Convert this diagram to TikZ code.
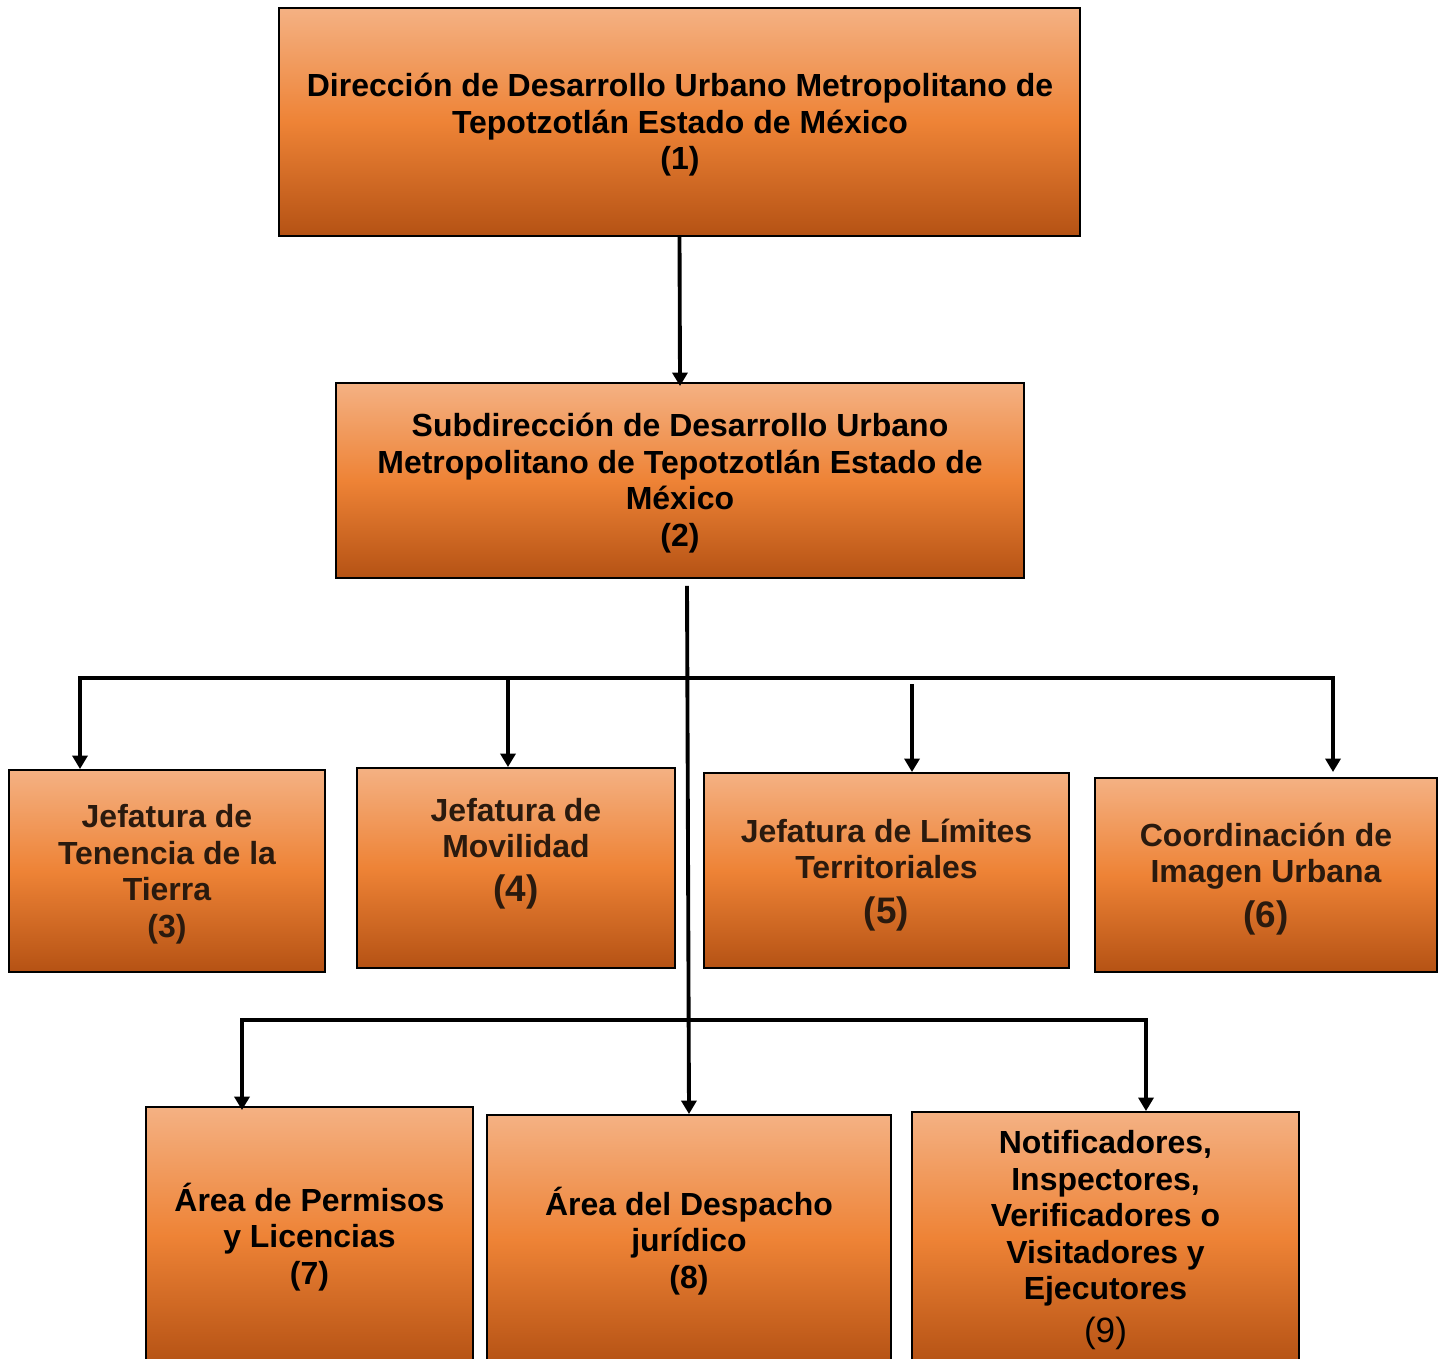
\documentclass[tikz,border=0pt]{standalone}
\usepackage{fontspec}
\setmainfont{Liberation Sans}
\usetikzlibrary{arrows.meta}
\definecolor{orTop}{HTML}{F4B183}
\definecolor{orMid}{HTML}{EE8336}
\definecolor{orBot}{HTML}{B55214}
\definecolor{darktxt}{HTML}{2A1A0E}
\begin{document}
\begin{tikzpicture}[x=0.02cm,y=-0.02cm,
  box/.style={draw=black, line width=1.1pt, top color=orTop, bottom color=orBot,
              middle color=orMid, inner sep=0pt},
  txt/.style={align=center, inner sep=0pt,
              font=\fontsize{18.2}{20.8}\selectfont\bfseries},
  conn/.style={line width=2.2pt},
  arr/.style={conn, -{Triangle[length=0.27cm,width=0.3cm]}}]
\useasboundingbox (0,0) rectangle (1439,1358);

% organisation boxes
\node[box, minimum width=16.02cm, minimum height=4.56cm] (b1) at (679.5,122) {};
\node[box, minimum width=13.76cm, minimum height=3.9cm]  (b2) at (680,480.5) {};
\node[box, minimum width=6.32cm,  minimum height=4.04cm] (b3) at (167,871) {};
\node[box, minimum width=6.36cm,  minimum height=4.0cm]  (b4) at (516,868) {};
\node[box, minimum width=7.3cm,   minimum height=3.9cm]  (b5) at (886.5,870.5) {};
\node[box, minimum width=6.84cm,  minimum height=3.88cm] (b6) at (1266,875) {};
\node[box, minimum width=6.54cm,  minimum height=5.14cm] (b7) at (309.5,1235.5) {};
\node[box, minimum width=8.08cm,  minimum height=4.98cm] (b8) at (689,1239.5) {};
\node[box, minimum width=7.74cm,  minimum height=5.04cm] (b9) at (1105.5,1238) {};

% box texts
\node[txt] (t1) at (680,125) {Dirección de Desarrollo Urbano Metropolitano de\\Tepotzotlán Estado de México\\(1)};
\node[txt] (t2) at (680,483) {Subdirección de Desarrollo Urbano\\Metropolitano de Tepotzotlán Estado de\\México\\(2)};
\node[txt, text=darktxt] (t3) at (167,874) {Jefatura de\\Tenencia de la\\Tierra\\(3)};
\node[txt, text=darktxt] (t4) at (516,853.5) {Jefatura de\\Movilidad\\[4pt]{\fontsize{21}{24}\selectfont (4)}};
\node[txt, text=darktxt] (t5) at (886.5,875) {Jefatura de Límites\\Territoriales\\[4.5pt]{\fontsize{21}{24}\selectfont (5)}};
\node[txt, text=darktxt] (t6) at (1266,879) {Coordinación de\\Imagen Urbana\\[4.5pt]{\fontsize{21}{24}\selectfont (6)}};
\node[txt] (t7) at (309.5,1237) {Área de Permisos\\y Licencias\\(7)};
\node[txt] (t8) at (689,1241) {Área del Despacho\\jurídico\\(8)};
\node[txt] (t9) at (1105.5,1240) {Notificadores,\\Inspectores,\\Verificadores o\\Visitadores y\\Ejecutores\\[3.4pt]{\fontsize{20}{24}\selectfont\mdseries (9)}};

% bus points
\coordinate (busL) at (80,678);
\coordinate (busR) at (1333,678);
\coordinate (j4) at (508,678);
\coordinate (j5) at (912,684);
\coordinate (lowL) at (242,1020);
\coordinate (lowR) at (1146,1020);

% connectors
\draw[arr, shorten >=-0.08cm] (b1.south) -- (b2.north);
\draw[arr] ([xshift=0.14cm,yshift=-0.14cm]b2.south) -- (b8.north);
\draw[conn, line cap=rect] (busL) -- (busR);
\draw[arr] (busL) -- (busL |- b3.north);
\draw[arr] (j4) -- (j4 |- b4.north);
\draw[arr] (j5) -- (j5 |- b5.north);
\draw[arr, shorten >=0.1cm] (busR) -- (busR |- b6.north);
\draw[conn, line cap=rect] (lowL) -- (lowR);
\draw[arr, shorten >=-0.08cm] (lowL) -- (lowL |- b7.north);
\draw[arr] (lowR) -- (lowR |- b9.north);
\end{tikzpicture}
\end{document}
